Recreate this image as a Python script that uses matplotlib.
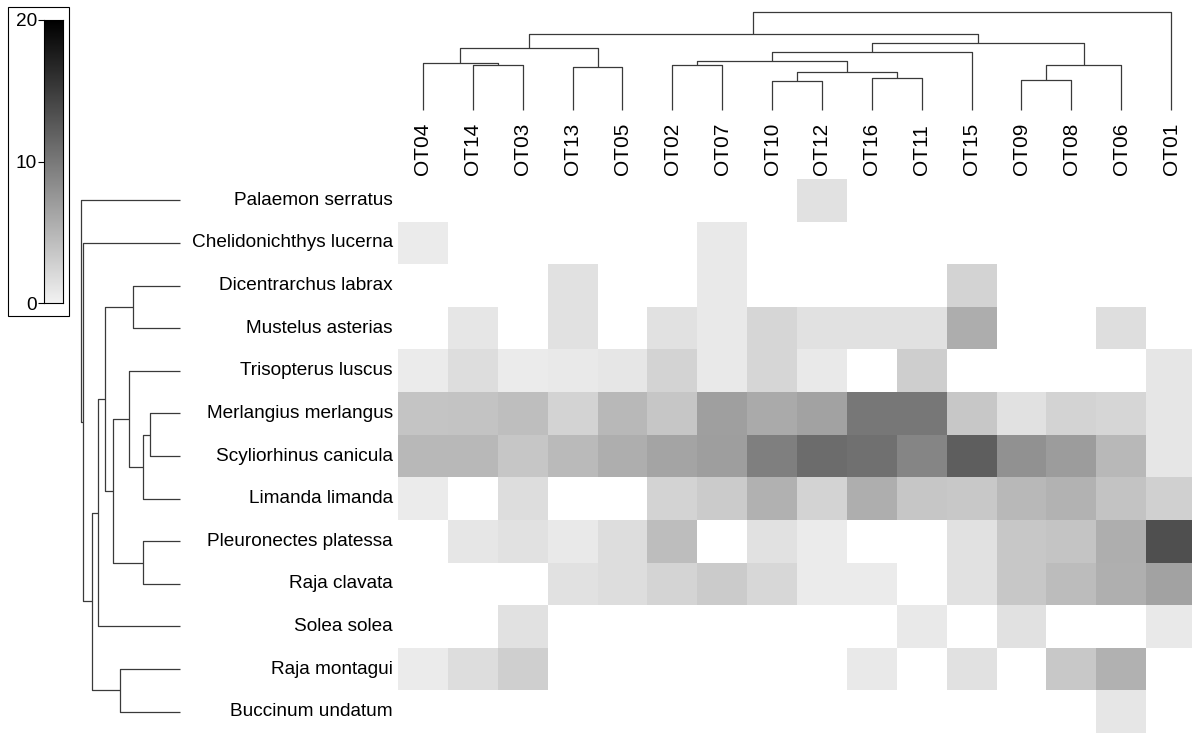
import numpy as np
import matplotlib
matplotlib.use("Agg")
import matplotlib.pyplot as plt
from matplotlib.colors import LinearSegmentedColormap
from matplotlib.patches import Rectangle
from matplotlib.transforms import blended_transform_factory

plt.rcParams['font.family'] = ['Liberation Sans', 'DejaVu Sans']

# ---------------- data ----------------
species = ["Palaemon serratus", "Chelidonichthys lucerna", "Dicentrarchus labrax",
           "Mustelus asterias", "Trisopterus luscus", "Merlangius merlangus",
           "Scyliorhinus canicula", "Limanda limanda", "Pleuronectes platessa",
           "Raja clavata", "Solea solea", "Raja montagui", "Buccinum undatum"]

stations = ["OT04", "OT14", "OT03", "OT13", "OT05", "OT02", "OT07", "OT10",
            "OT12", "OT16", "OT11", "OT15", "OT09", "OT08", "OT06", "OT01"]

# 0 = absent (drawn white)
abundance = [
    [0, 0, 0, 0, 0, 0, 0, 0, 1.45, 0, 0, 0, 0, 0, 0, 0],
    [0.61, 0, 0, 0, 0, 0, 0.82, 0, 0, 0, 0, 0, 0, 0, 0, 0],
    [0, 0, 0, 1.45, 0, 0, 0.82, 0, 0, 0, 0, 2.61, 0, 0, 0, 0],
    [0, 1.03, 0, 1.45, 0, 1.45, 0.82, 2.30, 1.45, 1.45, 1.45, 5.77, 0, 0, 1.67, 0],
    [0.61, 1.77, 0.61, 0.82, 1.03, 2.61, 0.82, 2.30, 0.72, 0, 3.03, 0, 0, 0, 0, 1.03],
    [3.77, 3.88, 4.30, 2.61, 4.83, 3.67, 6.83, 5.99, 6.62, 10.20, 10.20, 3.56, 1.45, 2.61, 2.30, 1.03],
    [4.83, 4.83, 3.67, 4.62, 5.67, 6.41, 6.93, 9.46, 11.04, 10.73, 9.04, 12.20, 7.99, 7.14, 4.83, 1.03],
    [0.61, 0, 1.77, 0, 0, 2.61, 3.25, 5.46, 2.61, 5.67, 3.67, 3.46, 4.83, 5.25, 3.88, 2.82],
    [0, 1.03, 1.45, 0.82, 1.77, 4.40, 0, 1.45, 0.61, 0, 0, 1.45, 3.56, 3.77, 5.67, 13.47],
    [0, 0, 0, 1.45, 1.77, 2.51, 3.25, 2.19, 0.61, 0.61, 0, 1.45, 3.56, 4.51, 5.56, 6.62],
    [0, 0, 1.45, 0, 0, 0, 0, 0, 0, 0, 0.82, 0, 1.45, 0, 0, 0.82],
    [0.61, 1.77, 2.93, 0, 0, 0, 0, 0, 0, 0.82, 0, 1.45, 0, 3.46, 5.35, 0],
    [0, 0, 0, 0, 0, 0, 0, 0, 0, 0, 0, 0, 0, 0, 1.03, 0],
]

# linkage merges (left, right, height); leaves are indices in display order,
# merged clusters are numbered n, n+1, ...
col_merges = [
    (1, 2, 44.7), (0, 16, 47.0), (3, 4, 42.7), (17, 18, 61.7),
    (5, 6, 44.7), (7, 8, 29.0), (9, 10, 32.3), (21, 22, 38.3),
    (20, 23, 48.7), (24, 11, 57.7), (12, 13, 29.7), (26, 14, 44.7),
    (25, 27, 66.7), (19, 28, 76.0), (29, 15, 98.0),
]
row_merges = [
    (5, 6, 30.3), (13, 7, 36.7), (4, 14, 50.7), (8, 9, 36.7),
    (15, 16, 67.3), (2, 3, 47.0), (18, 17, 75.0), (19, 10, 82.3),
    (11, 12, 60.0), (20, 21, 88.3), (1, 22, 97.0), (0, 23, 99.3),
]

cbar_ticks = [0, 10, 20]

# ---------------- figure ----------------
W, H = 1192, 733
fig = plt.figure(figsize=(W / 100, H / 100), dpi=100)


def ax_px(l, t, r, b):
    return fig.add_axes([l / W, 1 - b / H, (r - l) / W, (b - t) / H])


cmap = LinearSegmentedColormap.from_list("wb", ["#f2f2f2", "#000000"])
cmap.set_bad("#ffffff")
FS_ROW = 13.7
FS_COL = 15
LC = "#3a3a3a"

# heatmap
ax = ax_px(398, 179, 1196, 733)
vals = np.ma.masked_equal(np.array(abundance, dtype=float), 0)
ax.pcolormesh(np.arange(len(stations) + 1), np.arange(len(species) + 1), vals,
              cmap=cmap, vmin=0, vmax=20)
ax.set_xlim(0, len(stations))
ax.set_ylim(len(species), 0)
ax.set_axis_off()

tcol = blended_transform_factory(ax.transData, fig.transFigure)
for i, s in enumerate(stations):
    ax.text(i + 0.5, 1 - 175 / H, s, transform=tcol, rotation=90,
            ha="center", va="bottom", fontsize=FS_COL)
trow = blended_transform_factory(fig.transFigure, ax.transData)
for j, s in enumerate(species):
    ax.text(393 / W, j + 0.5, s, transform=trow, ha="right", va="center",
            fontsize=FS_ROW)


def dendro(merges, n):
    pos = {i: i + 0.5 for i in range(n)}
    hgt = {i: 0.0 for i in range(n)}
    segs = []
    for k, (a, b, h) in enumerate(merges):
        segs.append(([pos[a], pos[a], pos[b], pos[b]], [hgt[a], h, h, hgt[b]]))
        pos[n + k] = (pos[a] + pos[b]) / 2
        hgt[n + k] = h
    return segs


# column dendrogram
axc = ax_px(398, 10, 1196, 110)
for xs, hs in dendro(col_merges, len(stations)):
    axc.plot(xs, hs, color=LC, lw=0.9, clip_on=False, solid_capstyle="butt")
axc.set_xlim(0, len(stations))
axc.set_ylim(0, 100)
axc.set_axis_off()

# row dendrogram
axr = ax_px(80, 179, 180, 733)
for ps, hs in dendro(row_merges, len(species)):
    axr.plot(hs, ps, color=LC, lw=0.9, clip_on=False, solid_capstyle="butt")
axr.set_xlim(100, 0)
axr.set_ylim(len(species), 0)
axr.set_axis_off()

# colour key
axk = ax_px(44, 20, 63, 303)
grad = np.linspace(0, 20, 256).reshape(-1, 1)
axk.imshow(grad, cmap=cmap, vmin=0, vmax=20, origin="lower", aspect="auto",
           extent=[0, 1, 0, 20])
axk.set_xticks([])
axk.set_yticks(cbar_ticks)
axk.set_yticklabels([str(t) for t in cbar_ticks], fontsize=FS_ROW)
axk.tick_params(axis="y", length=4, width=0.8, pad=1)
for sp in axk.spines.values():
    sp.set_linewidth(0.8)
fig.patches.append(Rectangle((8 / W, 1 - 316 / H), 61 / W, 309 / H,
                             transform=fig.transFigure, fill=False,
                             ec="black", lw=0.8))

fig.savefig("out.png", dpi=100)
